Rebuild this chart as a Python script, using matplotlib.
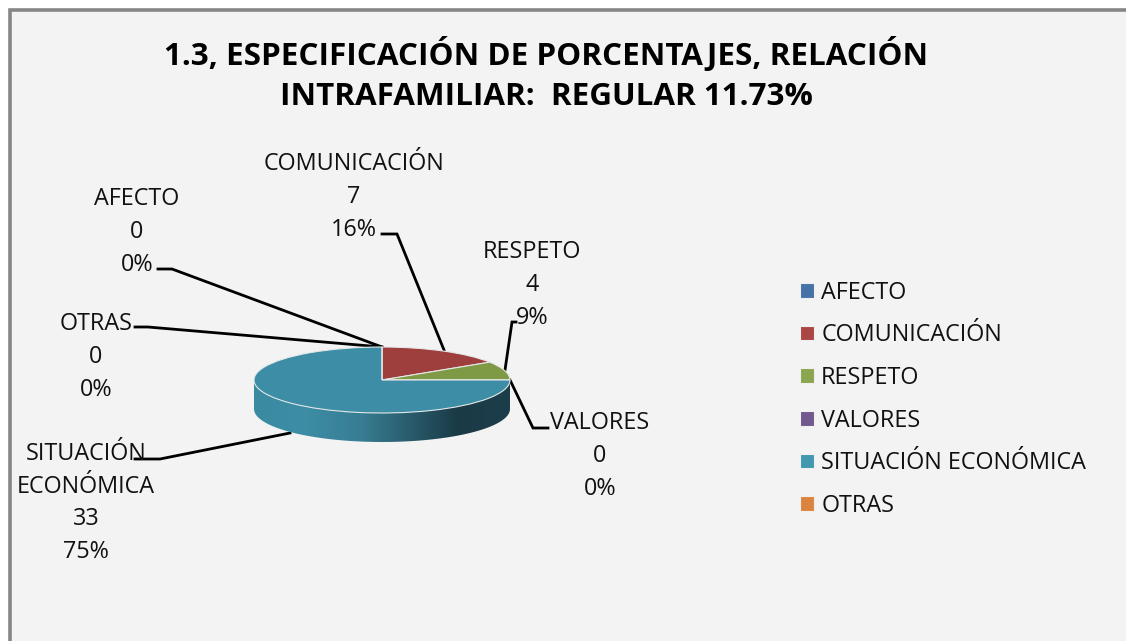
import numpy as np
import matplotlib
matplotlib.use("Agg")
import matplotlib.pyplot as plt
from matplotlib.colors import LinearSegmentedColormap
from matplotlib.patches import PathPatch, Rectangle
from matplotlib.path import Path

# data
categories = ['AFECTO', 'COMUNICACIÓN', 'RESPETO', 'VALORES', 'SITUACIÓN ECONÓMICA', 'OTRAS']
values = [0, 7, 4, 0, 33, 0]
percents = [0, 16, 9, 0, 75, 0]
title = '1.3, ESPECIFICACIÓN DE PORCENTAJES, RELACIÓN\nINTRAFAMILIAR:  REGULAR 11.73%'

# colours
slice_colors = ['#4572a7', '#9e3f3e', '#7f9a45', '#71588f', '#3c8da5', '#db843d']
legend_colors = ['#4572a7', '#aa4643', '#89a54e', '#71588f', '#4198af', '#db843d']

# label layout, pixels
label_names = ['AFECTO', 'COMUNICACIÓN', 'RESPETO', 'VALORES', 'SITUACIÓN\nECONÓMICA', 'OTRAS']
label_x = [137, 354, 532, 600, 86, 96]
label_y = [232, 197, 285, 456, 503, 357]
leader_x = [[158, 172, 382], [382, 397, 444], [516, 512, 505], [510, 533, 548], [135, 160, 290], [135, 148, 382]]
leader_y = [[269, 269, 347], [234, 234, 350], [322, 322, 370], [380, 428, 428], [459, 459, 433], [327, 327, 347]]

W, H = 1126, 641
plt.rcParams['font.family'] = ['Open Sans', 'DejaVu Sans']
fig = plt.figure(figsize=(W / 100, H / 100), dpi=100, facecolor='white')

# background axes in pixels
bg = fig.add_axes([0, 0, 1, 1])
bg.set_xlim(0, W)
bg.set_ylim(H, 0)
bg.axis('off')
bg.add_patch(Rectangle((9.5, 9.5), W + 20, H + 20, facecolor='#f3f3f3', edgecolor='#868686', linewidth=2.6))

bg.text(546, 74.5, title, ha='center', va='center', fontsize=22.6, fontweight='bold', linespacing=1.42, color='black')

for i in range(len(categories)):
    bg.plot(leader_x[i], leader_y[i], color='black', linewidth=2.0, solid_joinstyle='miter', zorder=2)
    txt = label_names[i] + '\n' + str(values[i]) + '\n' + str(percents[i]) + '%'
    bg.text(label_x[i], label_y[i], txt, ha='center', va='center', fontsize=16.8, linespacing=1.48, color='#111111', zorder=3)

# pie, squashed by its axes box
cx, cy, rx, ry, depth = 382, 380, 128, 33, 29
ax = fig.add_axes([(cx - rx) / W, 1 - (cy + ry + depth) / H, 2 * rx / W, (2 * ry + depth) / H])
ax.patch.set_alpha(0)
wedges, _ = ax.pie(values, colors=slice_colors, startangle=90, counterclock=False, radius=1,
                   wedgeprops={'edgecolor': '#e4e8e8', 'linewidth': 0.8}, center=(0, 0))
d = depth / ry
ax.set_aspect('auto')
ax.set_xlim(-1, 1)
ax.set_ylim(-1 - d, 1)

# side of the cylinder
t = np.linspace(np.pi, 2 * np.pi, 120)
rim_x = np.concatenate([[-1], np.cos(t), [1]])
rim_y = np.concatenate([[0], np.sin(t) - d, [0]])
rim = PathPatch(Path(np.column_stack([rim_x, rim_y])), facecolor='none', edgecolor='none', transform=ax.transData)
ax.add_patch(rim)
cmap = LinearSegmentedColormap.from_list('rim', [(0, '#3a8aa2'), (0.2, '#3c8da5'), (0.42, '#387d92'),
                                                 (0.8, '#1a3a46'), (1, '#1c3e4a')])
img = ax.imshow(np.linspace(0, 1, 256).reshape(1, -1), cmap=cmap, extent=(-1, 1, -1 - d, 1), aspect='auto', zorder=0)
img.set_clip_path(rim)
ax.set_xlim(-1, 1)
ax.set_ylim(-1 - d, 1)

# legend
leg = fig.legend(wedges, categories, loc='upper left', bbox_to_anchor=(800 / W, 1 - 280.5 / H), frameon=False,
                 fontsize=16.8, handlelength=0.58, handleheight=0.58, handletextpad=0.33, labelspacing=0.8,
                 borderpad=0, borderaxespad=0, labelcolor='#111111')
for h, c in zip(leg.legend_handles, legend_colors):
    h.set_facecolor(c)
    h.set_edgecolor('#f0f0f0')

plt.savefig('out.png', dpi=100)
